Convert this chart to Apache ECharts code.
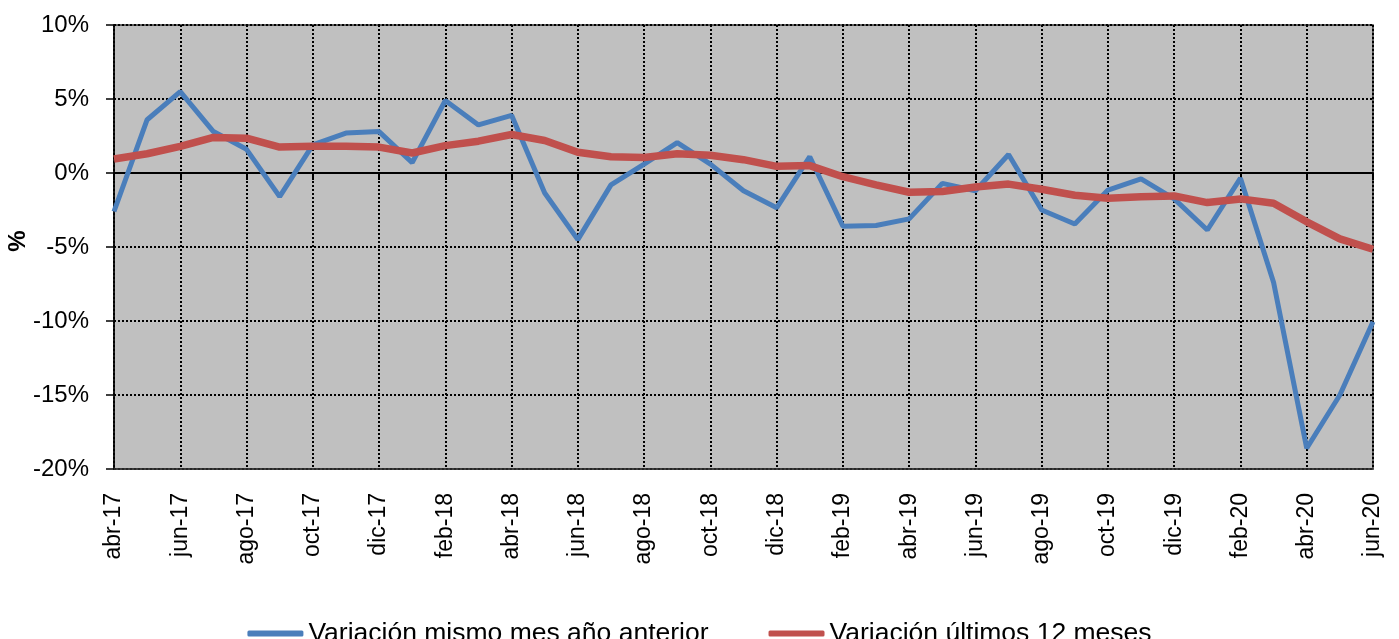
<!DOCTYPE html>
<html>
<head>
<meta charset="utf-8">
<script src="https://cdn.jsdelivr.net/npm/echarts@6/dist/echarts.min.js"></script>
<style>html,body{margin:0;padding:0;background:#fff;}#c{width:1399px;height:639px;}</style>
</head>
<body>
<div id="c"></div>
<script>
const months = ['ene','feb','mar','abr','may','jun','jul','ago','sep','oct','nov','dic'];
const categories = [];
for (let y = 17; y <= 20; y++) {
  for (let m = 0; m < 12; m++) {
    if (y === 17 && m < 3) continue;
    if (y === 20 && m > 5) continue;
    categories.push(months[m] + '-' + y);
  }
}
const seriesNames = ['Variación mismo mes año anterior', 'Variación últimos 12 meses'];
const sameMonth = [
  -2.6, 3.6, 5.5, 2.8, 1.6, -1.6, 1.9, 2.7, 2.8, 0.7,
  4.9, 3.25, 3.9, -1.35, -4.5, -0.8, 0.6, 2.05, 0.6, -1.2,
  -2.35, 1.1, -3.6, -3.55, -3.1, -0.7, -1.2, 1.25, -2.5, -3.45,
  -1.15, -0.4, -1.75, -3.85, -0.35, -7.4, -18.6, -15.0, -10.05
];
const last12 = [
  0.95, 1.3, 1.8, 2.4, 2.35, 1.75, 1.8, 1.8, 1.75, 1.35,
  1.85, 2.15, 2.6, 2.2, 1.4, 1.1, 1.05, 1.3, 1.2, 0.9,
  0.45, 0.5, -0.25, -0.8, -1.3, -1.25, -0.95, -0.75, -1.1, -1.5,
  -1.7, -1.6, -1.55, -2.0, -1.75, -2.05, -3.3, -4.45, -5.15
];
const yMin = -20, yMax = 10, yStep = 5;

const font = 'Liberation Sans, Arial, sans-serif';
const chart = echarts.init(document.getElementById('c'), null, {renderer: 'canvas'});
const dotted = {color: '#000', width: 2, type: [2, 2]};
chart.setOption({
  animation: false,
  backgroundColor: '#fff',
  grid: {left: 114, right: 26, top: 25, bottom: 170, outerBoundsMode: 'none', containLabel: false,
         show: true, backgroundColor: '#c0c0c0', borderColor: '#333', borderWidth: 1.5},
  legend: {
    left: 'center', top: 615, itemGap: 60, itemWidth: 56, itemHeight: 6, icon: 'roundRect',
    textStyle: {fontFamily: font, fontSize: 26.5, color: '#000'},
    data: seriesNames
  },
  xAxis: [{
    type: 'category', boundaryGap: false, data: categories, position: 'bottom',
    axisLine: {onZero: false, lineStyle: {color: '#333', width: 1.5}},
    axisTick: {show: false},
    axisLabel: {interval: 1, rotate: 90, margin: 24, fontFamily: font, fontSize: 23, color: '#000'},
    splitLine: {show: true, interval: 1, lineStyle: dotted}
  }, {
    type: 'category', boundaryGap: false, data: categories, position: 'bottom',
    axisLine: {onZero: true, lineStyle: {color: '#000', width: 2}},
    axisTick: {show: true, interval: 1, length: 7, lineStyle: {color: '#000', width: 2}},
    axisLabel: {show: false},
    splitLine: {show: false}
  }],
  yAxis: {
    type: 'value', min: yMin, max: yMax, interval: yStep,
    name: '%', nameLocation: 'middle', nameGap: 84, nameRotate: 90, nameMoveOverlap: false,
    nameTextStyle: {fontFamily: font, fontSize: 24, fontWeight: 'bold', color: '#000', padding: [0, 0, 0, 12]},
    axisLine: {show: true, lineStyle: {color: '#000', width: 1.5}},
    axisTick: {show: true, length: 8, lineStyle: {color: '#000', width: 1.5}},
    axisLabel: {formatter: v => v + '%', margin: 25, fontFamily: font, fontSize: 24, color: '#000'},
    splitLine: {show: true, lineStyle: dotted}
  },
  series: [{
    name: seriesNames[0], type: 'line', data: sameMonth, showSymbol: false, symbol: 'none',
    lineStyle: {color: '#4a7ebb', width: 5}, itemStyle: {color: '#4a7ebb'}, z: 3
  }, {
    name: seriesNames[1], type: 'line', data: last12, showSymbol: false, symbol: 'none',
    lineStyle: {color: '#c0504d', width: 7.5}, itemStyle: {color: '#c0504d'}, z: 4
  }]
});
</script>
</body>
</html>
